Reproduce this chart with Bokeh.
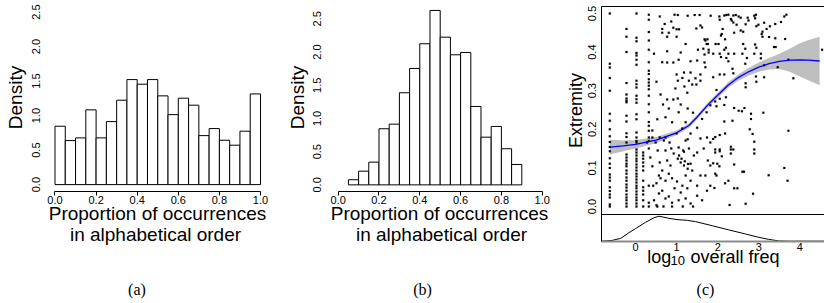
import math
from bokeh.plotting import figure
from bokeh.layouts import row
from bokeh.models import Label, FixedTicker, LinearAxis, Range1d
from bokeh.embed import file_html
from bokeh.resources import INLINE

SANS = "Liberation Sans"
SERIF = "Liberation Serif"

# ---------------- data: panel (a) ----------------
edges_a = [0.00, 0.05, 0.10, 0.15, 0.20, 0.25, 0.30, 0.35, 0.40, 0.45, 0.50,
           0.55, 0.60, 0.65, 0.70, 0.75, 0.80, 0.85, 0.90, 0.95, 1.00]
density_a = [0.846, 0.638, 0.677, 1.083, 0.677, 0.913, 1.223, 1.522, 1.455, 1.522,
             1.286, 1.014, 1.252, 1.151, 0.710, 0.812, 0.643, 0.571, 0.774, 1.314]

# ---------------- data: panel (b) ----------------
edges_b = [0.05, 0.10, 0.15, 0.20, 0.25, 0.30, 0.35, 0.40, 0.45, 0.50,
           0.55, 0.60, 0.65, 0.70, 0.75, 0.80, 0.85, 0.90]
density_b = [0.077, 0.206, 0.342, 0.845, 0.914, 1.387, 1.753, 2.125, 2.627,
             2.224, 1.959, 1.994, 1.181, 0.718, 0.880, 0.544, 0.307]

hist_xticks = [0.0, 0.2, 0.4, 0.6, 0.8, 1.0]
hist_xtick_labels = ["0.0", "0.2", "0.4", "0.6", "0.8", "1.0"]
hist_yticks = [0.0, 0.5, 1.0, 1.5, 2.0, 2.5]
hist_ytick_labels = ["0.0", "0.5", "1.0", "1.5", "2.0", "2.5"]

# ---------------- data: panel (c) ----------------
# points that sit on the discrete low-frequency columns
col_x = [-0.625, -0.219, 0.024, 0.187, 0.324]
col_y0 = [0.50, 0.37, 0.36, 0.333, 0.30, 0.24, 0.222, 0.20, 0.182, 0.167, 0.154, 0.143,
          0.125, 0.111, 0.10, 0.083, 0.075, 0.067, 0.05, 0.04, 0.031, 0.023, 0.005, 0.0]
col_y1 = [0.46, 0.44, 0.40, 0.32, 0.29, 0.28, 0.274, 0.27, 0.235, 0.22, 0.19, 0.18, 0.166,
          0.135, 0.127, 0.119, 0.111, 0.104, 0.093, 0.085, 0.075, 0.067, 0.057, 0.049,
          0.041, 0.031, 0.023, 0.016, 0.008, 0.0]
col_y2 = [0.5, 0.437, 0.428, 0.398, 0.391, 0.38, 0.367, 0.326, 0.317, 0.308, 0.287, 0.278,
          0.269, 0.239, 0.226, 0.192, 0.179, 0.17, 0.166, 0.148, 0.14, 0.132, 0.124, 0.117,
          0.109, 0.101, 0.093, 0.085, 0.078, 0.07, 0.062, 0.054, 0.047, 0.039, 0.031,
          0.023, 0.016, 0.008, 0.0]
col_y3 = [0.14, 0.132, 0.124, 0.114, 0.104, 0.093, 0.067, 0.05, 0.041, 0.031, 0.016, 0.0]
col_y4 = [0.497, 0.484, 0.452, 0.43, 0.406, 0.374, 0.352, 0.343, 0.33, 0.321, 0.313, 0.304,
          0.287, 0.265, 0.244, 0.219, 0.209, 0.196, 0.179, 0.17, 0.15, 0.054, 0.01, 0.0]

# remaining points (log10 overall freq, extremity)
pts_x = [0.59, 0.95, 1.03, 1.27, 1.44, 1.56, 1.83, 0.71, 0.87, 0.65, 0.92, 1.0, 1.06, 1.48, 1.58,
         1.62, 0.65, 0.81, 0.77, 1.0, 1.68, 1.75, 1.70, 1.22, 1.73, 1.76, 0.45, 0.77, 1.1, 1.52,
         1.65, 1.78, 1.68, 1.78, 1.05, 1.34, 1.5, 0.65, 0.77, 0.92, 1.68, 1.70,
         2.04, 2.16, 2.21, 2.26, 2.38, 2.44, 2.51, 2.32, 2.05, 2.56, 2.73, 2.89, 2.93, 2.91, 3.62,
         3.67, 2.34, 2.38, 2.46, 2.68, 2.75, 2.99, 3.13, 3.4, 3.54, 2.12, 2.56, 2.62, 2.4, 2.94,
         3.09, 3.19, 3.27, 2.1, 2.08, 2.18, 3.07, 3.09, 3.25, 3.4, 3.64, 1.95, 2.02, 2.62, 2.91,
         2.94, 3.37, 3.41, 2.2, 2.16, 2.67, 1.89, 2.05, 2.26, 2.4, 2.6, 2.89, 3.05, 2.08, 2.21,
         2.71, 3.05, 2.26, 3.72, 2.67, 3.13, 2.36, 3.46, 4.54,
         0.51, 0.61, 0.77, 0.92, 1.03, 0.67, 0.81, 1.1, 1.27, 1.4, 1.22, 1.05, 0.89, 0.73, 0.53,
         0.41, 0.59, 0.69, 1.0, 1.14, 1.27, 1.34, 1.18, 1.5, 1.62, 1.73, 1.82, 1.14, 1.03, 1.3,
         1.38, 1.48, 1.58, 1.19, 1.26, 0.97, 1.0, 1.18, 1.34, 1.58, 1.46, 0.41, 0.28, 0.49, 0.73,
         0.83, 1.22, 1.58, 1.74, 1.82,
         1.89, 2.05, 2.16, 2.38, 2.93, 3.13, 3.84, 2.94, 2.68, 2.68, 1.97, 2.2, 2.05, 1.94, 2.16,
         1.97, 2.4, 2.51, 2.59, 2.65, 2.81, 3.11, 2.81, 2.16, 2.36, 2.78, 3.72, 2.85, 2.18, 2.05,
         1.94, 1.89, 2.89,
         0.36, 0.41, 0.43, 0.51, 0.57, 0.65, 0.59, 0.54, 0.73, 0.87, 0.93, 1.03, 1.1, 1.18, 1.27,
         1.34, 1.05, 1.3, 1.5, 1.66, 1.76, 1.58, 1.5, 1.34, 1.22, 1.14, 1.01, 0.89, 0.81, 0.73,
         0.65, 0.57, 0.73, 0.81, 0.89, 1.05, 1.22, 1.34, 1.5, 1.62, 1.74, 1.82, 1.82, 1.7, 0.45,
         0.51, 1.1, 1.26, 0.95, 0.61, 0.77, 0.85, 1.16, 1.42, 1.38, 1.06, 1.12, 1.2, 1.28,
         0.53, 0.68, 0.89, 1.15, 1.4,
         1.94, 1.94, 2.05, 2.05, 2.1, 2.32, 2.32, 2.38, 2.32, 2.89, 2.89, 1.89, 1.99, 2.04, 2.4,
         2.6, 2.64, 3.62, 1.94, 1.97, 3.24, 2.26, 2.18, 3.7, 1.92, 2.4, 2.48, 2.86, 2.29, 2.68]
pts_y = [0.492, 0.497, 0.496, 0.494, 0.496, 0.496, 0.494, 0.473, 0.479, 0.46, 0.463, 0.459, 0.459,
         0.461, 0.469, 0.464, 0.45, 0.45, 0.44, 0.44, 0.433, 0.433, 0.43, 0.421, 0.421, 0.421,
         0.396, 0.402, 0.399, 0.406, 0.409, 0.406, 0.394, 0.399, 0.38, 0.376, 0.378, 0.374, 0.373,
         0.373, 0.373, 0.361,
         0.492, 0.495, 0.496, 0.497, 0.495, 0.496, 0.492, 0.486, 0.484, 0.489, 0.489, 0.494, 0.497,
         0.488, 0.492, 0.497, 0.482, 0.477, 0.471, 0.472, 0.482, 0.471, 0.476, 0.473, 0.478, 0.46,
         0.456, 0.453, 0.45, 0.467, 0.453, 0.46, 0.467, 0.447, 0.443, 0.433, 0.447, 0.44, 0.439,
         0.436, 0.434, 0.421, 0.421, 0.421, 0.42, 0.411, 0.413, 0.413, 0.411, 0.406, 0.409, 0.396,
         0.396, 0.396, 0.396, 0.396, 0.396, 0.396, 0.387, 0.385, 0.385, 0.384, 0.376, 0.38, 0.37,
         0.366, 0.357, 0.361, 0.406,
         0.323, 0.29, 0.277, 0.277, 0.28, 0.264, 0.254, 0.264, 0.254, 0.243, 0.218, 0.244, 0.218,
         0.231, 0.226, 0.197, 0.179, 0.171, 0.189, 0.202, 0.174, 0.189, 0.142, 0.204, 0.227, 0.244,
         0.262, 0.333, 0.326, 0.326, 0.316, 0.316, 0.326, 0.311, 0.295, 0.306, 0.342, 0.347, 0.347,
         0.342, 0.332, 0.179, 0.166, 0.166, 0.179, 0.166, 0.171, 0.176, 0.179, 0.166,
         0.335, 0.342, 0.342, 0.345, 0.337, 0.335, 0.332, 0.323, 0.319, 0.309, 0.302, 0.283, 0.279,
         0.272, 0.263, 0.26, 0.255, 0.248, 0.247, 0.255, 0.24, 0.243, 0.227, 0.22, 0.222, 0.2,
         0.196, 0.188, 0.189, 0.185, 0.18, 0.175, 0.168,
         0.127, 0.104, 0.054, 0.06, 0.08, 0.093, 0.114, 0.145, 0.145, 0.15, 0.137, 0.124, 0.114,
         0.106, 0.098, 0.111, 0.153, 0.15, 0.14, 0.15, 0.119, 0.08, 0.054, 0.067, 0.08, 0.054,
         0.065, 0.073, 0.085, 0.067, 0.041, 0.034, 0.021, 0.026, 0.01, 0.016, 0.021, 0.008, 0.028,
         0.016, 0.041, 0.054, 0.106, 0.08, 0.016, 0.003, 0.036, 0.047, 0.047, 0.073, 0.119, 0.106,
         0.145, 0.132, 0.093, 0.132, 0.124, 0.117, 0.11,
         0.0, 0.0, 0.0, 0.0, 0.0,
         0.148, 0.14, 0.148, 0.143, 0.13, 0.155, 0.148, 0.148, 0.137, 0.148, 0.137, 0.112, 0.111,
         0.104, 0.109, 0.09, 0.09, 0.1, 0.085, 0.08, 0.081, 0.067, 0.06, 0.067, 0.048, 0.047,
         0.047, 0.033, 0.004, 0.007]

# loess smooth with its standard-error band
loess_x = [-0.62, -0.3, 0.0, 0.5, 1.0, 1.3, 1.5, 1.75, 2.0, 2.25, 2.5, 2.75, 3.0, 3.25, 3.5,
           3.75, 4.0, 4.2, 4.48]
loess_fit = [0.154, 0.157, 0.161, 0.172, 0.191, 0.210, 0.232, 0.262, 0.288, 0.314, 0.334,
             0.349, 0.361, 0.370, 0.376, 0.379, 0.380, 0.379, 0.377]
loess_se = [0.019, 0.014, 0.011, 0.008, 0.006, 0.006, 0.006, 0.006, 0.007, 0.007, 0.008,
            0.010, 0.012, 0.015, 0.020, 0.030, 0.043, 0.052, 0.063]

# marginal density of log10 overall freq
dens_x = [-0.83, -0.57, -0.36, -0.16, 0.0, 0.24, 0.45, 0.57, 0.81, 1.01, 1.26, 1.46, 1.87,
          2.27, 2.68, 3.0, 3.24, 3.49, 3.72, 4.6]
dens_y = [0.0, 0.011, 0.042, 0.125, 0.186, 0.277, 0.346, 0.369, 0.338, 0.319, 0.308, 0.289,
          0.228, 0.167, 0.106, 0.057, 0.027, 0.004, 0.0, 0.0]

c_xticks = [0, 1, 2, 3, 4]
c_xtick_labels = ["0", "1", "2", "3", "4"]
c_yticks = [0.0, 0.1, 0.2, 0.3, 0.4, 0.5]
c_ytick_labels = ["0.0", "0.1", "0.2", "0.3", "0.4", "0.5"]

H = 303


def base_fig(w, xr, yr):
    p = figure(width=w, height=H, x_range=xr, y_range=yr,
               min_border_left=0, min_border_right=0, min_border_top=0, min_border_bottom=0,
               output_backend="svg", toolbar_location=None)
    p.outline_line_color = None
    p.xgrid.visible = False
    p.ygrid.visible = False
    p.background_fill_color = "white"
    p.border_fill_color = "white"
    return p


def style_axis(ax, ticks, labels, standoff):
    ax.ticker = FixedTicker(ticks=ticks)
    ax.major_label_overrides = dict(zip(ticks, labels))
    ax.minor_tick_out = 0
    ax.minor_tick_in = 0
    ax.major_tick_in = 0
    ax.major_label_standoff = standoff
    ax.major_label_text_font = SANS
    ax.major_label_text_font_size = "11px"
    ax.major_label_text_color = "black"


def txt(p, text, x, y, size, font=SANS, angle=0.0, align="center", baseline="alphabetic"):
    # x, y in pixels from the bottom-left corner of the panel
    p.add_layout(Label(x=x, y=y, x_units="screen", y_units="screen", text=text,
                       text_font=font, text_font_size=size, text_color="black",
                       text_align=align, text_baseline=baseline, angle=angle))


def hist_panel(w, edges, dens, xr, yr, yaxis_x, ystand, lab_pos, cap, cap_x):
    p = base_fig(w, xr, yr)
    p.quad(left=edges[:-1], right=edges[1:], bottom=0, top=dens,
           fill_color="white", line_color="black", line_width=1)
    xa = p.xaxis[0]
    style_axis(xa, hist_xticks, hist_xtick_labels, 0)
    xa.fixed_location = -0.1
    xa.bounds = (0, 1)
    xa.axis_line_color = "black"
    xa.major_tick_out = 4
    ya = p.yaxis[0]
    style_axis(ya, hist_yticks, hist_ytick_labels, ystand)
    ya.fixed_location = yaxis_x
    ya.axis_line_color = None
    ya.major_tick_line_color = None
    ya.major_tick_out = 0
    ya.major_label_orientation = "vertical"
    dx, l1x, l2x = lab_pos
    txt(p, "Density", dx, 206, "19px", angle=math.pi / 2, baseline="middle")
    txt(p, "Proportion of occurrences", l1x, 90, "19px")
    txt(p, "in alphabetical order", l2x, 69.5, "19px")
    txt(p, cap, cap_x, 14, "16px", font=SERIF)
    return p


pa = hist_panel(280, edges_a, density_a, Range1d(-0.2652, 1.0973), Range1d(-1.723, 2.668),
                -0.0399, 7, (15, 157, 155), "(a)", 136.5)
pb = hist_panel(278, edges_b, density_b, Range1d(-0.2828, 1.0799), Range1d(-1.7867, 2.7765),
                -0.0402, 9, (17, 159, 161), "(b)", 142)

# ---------------- panel (c) ----------------
frame_left = -0.8273     # left border of the scatter box (log10 units)
box_top = 0.5189         # top border of the scatter box (extremity units)
box_split = -0.0207      # border between scatter and density strip
box_bottom = -0.0907     # bottom of the density strip

pc = base_fig(266, Range1d(-1.8735, 4.5985), Range1d(-0.2513, 0.5337))
pc.extra_y_ranges = {"dens": Range1d(-0.9196, 3.5528)}

lo = [f - s for f, s in zip(loess_fit, loess_se)]
hi = [f + s for f, s in zip(loess_fit, loess_se)]
pc.varea(x=loess_x, y1=lo, y2=hi, fill_color="#BEBEBE")

all_x = []
all_y = []
for cx, cys in zip(col_x, [col_y0, col_y1, col_y2, col_y3, col_y4]):
    all_x += [cx] * len(cys)
    all_y += cys
all_x += pts_x
all_y += pts_y
pc.scatter(all_x, all_y, marker="square", size=2.0, fill_color="black",
           line_color="black", line_width=0.2)
pc.line(loess_x, loess_fit, line_color="#0000FF", line_width=1.3)
pc.line(dens_x, dens_y, y_range_name="dens", line_color="black", line_width=1)

ya = pc.yaxis[0]
style_axis(ya, c_yticks, c_ytick_labels, 5)
ya.fixed_location = frame_left
ya.bounds = (box_bottom, box_top)
ya.axis_line_color = "black"
ya.major_tick_out = 0
ya.major_tick_line_color = None
ya.major_label_orientation = "vertical"

xa = pc.xaxis[0]
style_axis(xa, c_xticks, c_xtick_labels, 1)
xa.fixed_location = box_bottom
xa.bounds = (frame_left, 4.5985)
xa.axis_line_color = "#8c8c8c"
xa.axis_line_width = 2
xa.major_tick_out = 0
xa.major_tick_line_color = None

for loc, place in ((box_top, "above"), (box_split, "below")):
    border = LinearAxis(ticker=FixedTicker(ticks=[]), fixed_location=loc,
                        bounds=(frame_left, 4.5985), axis_line_color="black",
                        major_tick_out=0, major_tick_in=0, minor_tick_out=0, minor_tick_in=0,
                        major_label_text_font_size="0px", major_label_standoff=0)
    pc.add_layout(border, place)

txt(pc, "Extremity", 17.5, 193, "18px", angle=math.pi / 2, baseline="middle")
txt(pc, "log", 88.7, 47, "18px", align="left")
txt(pc, "10", 112, 43, "13px", align="left")
txt(pc, "overall freq", 132, 47, "18px", align="left")
txt(pc, "(c)", 147, 14, "16px", font=SERIF)

layout = row(pa, pb, pc)
open("out.html", "w").write(file_html(layout, INLINE))
